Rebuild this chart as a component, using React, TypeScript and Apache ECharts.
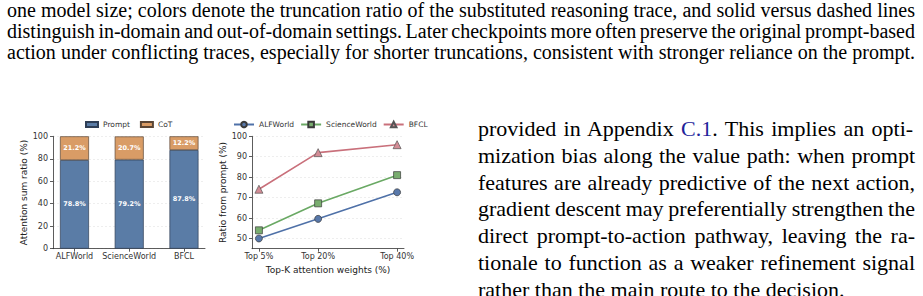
import React, { useEffect, useLayoutEffect, useRef } from "react";
import * as echarts from "echarts";

// ---- data ----
const categories = ["ALFWorld", "ScienceWorld", "BFCL"];
const promptRatio = [78.8, 79.2, 87.8];
const cotRatio = [21.2, 20.7, 12.2];
const barYTicks = [0, 20, 40, 60, 80, 100];

const topK = [5, 20, 40];
const topKLabels = ["Top 5%", "Top 20%", "Top 40%"];
const alfworld = [50.0, 59.6, 72.6];
const scienceworld = [54.0, 67.2, 81.0];
const bfcl = [74.1, 92.0, 95.9];
const lineYTicks = [50, 60, 70, 80, 90, 100];

const captionLines = [
  "one model size; colors denote the truncation ratio of the substituted reasoning trace, and solid versus dashed lines",
  "distinguish in-domain and out-of-domain settings. Later checkpoints more often preserve the original prompt-based",
  "action under conflicting traces, especially for shorter truncations, consistent with stronger reliance on the prompt.",
];
const bodyLines = [
  "mization bias along the value path: when prompt",
  "features are already predictive of the next action,",
  "gradient descent may preferentially strengthen the",
  "direct prompt-to-action pathway, leaving the ra-",
  "tionale to function as a weaker refinement signal",
];
const bodyLast = "rather than the main route to the decision.";

const FONT = "DejaVu Sans";
const SERIF = "Liberation Serif";
const AX = "#333";
const CHART_TOP = 100; // page y of the chart canvas

export default function App() {
  const chartRef = useRef<HTMLDivElement>(null);

  useLayoutEffect(() => {
    const els = document.querySelectorAll<HTMLElement>("[data-justify]");
    els.forEach((el) => {
      const target = parseFloat(el.dataset.justify || "0");
      el.style.wordSpacing = "0px";
      const inner = el.firstElementChild as HTMLElement;
      const w = inner.getBoundingClientRect().width;
      const n = (el.textContent || "").split(" ").length - 1;
      if (n > 0) el.style.wordSpacing = (target - w) / n + "px";
    });
  }, []);

  useEffect(() => {
    if (!chartRef.current) return;
    const chart = echarts.init(chartRef.current, null, { renderer: "svg" });
    const axisLine = { show: true, lineStyle: { color: AX, width: 0.8 } };
    const split = { show: true, lineStyle: { color: "#e2e2e2", width: 0.6, type: [2, 2] as any } };
    const tickLabel = { color: AX, fontSize: 8, fontFamily: FONT };
    const nameStyle = { color: "#222", fontSize: 9, fontFamily: FONT };
    const tick = { show: true, length: 3, lineStyle: { color: AX, width: 0.8 } };
    const gTop = 136.3 - CHART_TOP;
    const lTop = 115.5 - CHART_TOP;

    const barLabel = {
      show: true,
      position: "inside",
      color: "#fff",
      fontWeight: "bold",
      fontSize: 6.5,
      fontFamily: FONT,
      formatter: (p: any) => `${Number(p.value).toFixed(1)}%`,
    };

    const option: any = {
      animation: false,
      legend: [
        {
          data: ["Prompt", "CoT"],
          left: 80,
          top: lTop,
          icon: "rect",
          itemWidth: 12,
          itemHeight: 5,
          itemGap: 10,
          width: 200,
          textStyle: { color: AX, fontSize: 7.5, fontFamily: FONT },
        },
        {
          data: ["ALFWorld", "ScienceWorld", "BFCL"],
          left: 228,
          top: lTop,
          width: 230,
          itemWidth: 20,
          itemHeight: 7,
          itemGap: 6,
          textStyle: { color: AX, fontSize: 7.5, fontFamily: FONT },
        },
      ],
      grid: [
        // frame of bar chart (spines, y ticks, grid lines)
        { left: 53, top: gTop, width: 152, height: 112.4 },
        // bars on a category axis, band = 54.75 px
        { left: 47.1, top: gTop, width: 164.25, height: 112.4 },
        // line chart
        { left: 252, top: gTop, width: 152, height: 112.4 },
      ],
      xAxis: [
        {
          gridIndex: 0,
          type: "value",
          min: 0,
          max: 1,
          splitLine: { show: false },
          axisLine,
          axisTick: { show: false },
          axisLabel: { show: false },
        },
        {
          gridIndex: 1,
          type: "category",
          data: categories,
          axisLine: { show: false },
          axisTick: { ...tick, alignWithLabel: true, interval: 0 },
          axisLabel: { ...tickLabel, margin: 4, interval: 0 },
          splitLine: { show: false },
        },
        {
          gridIndex: 2,
          type: "value",
          min: 3.25,
          max: 41.75,
          splitLine: { show: false },
          axisLine,
          axisTick: { ...tick, customValues: topK },
          axisLabel: {
            ...tickLabel,
            margin: 4,
            customValues: topK,
            formatter: (v: number) => topKLabels[topK.indexOf(v)],
          },
          name: "Top-K attention weights (%)",
          nameLocation: "middle",
          nameGap: 14,
          nameTextStyle: nameStyle,
        },
      ],
      yAxis: [
        {
          gridIndex: 0,
          type: "value",
          min: barYTicks[0],
          max: barYTicks[barYTicks.length - 1],
          interval: 20,
          axisLine,
          splitLine: split,
          axisTick: tick,
          axisLabel: { ...tickLabel, margin: 5 },
          name: "Attention sum ratio (%)",
          nameLocation: "middle",
          nameRotate: 90,
          nameGap: 21,
          nameTextStyle: nameStyle,
        },
        {
          gridIndex: 1,
          type: "value",
          min: barYTicks[0],
          max: barYTicks[barYTicks.length - 1],
          show: false,
          splitLine: { show: false },
        },
        {
          gridIndex: 2,
          type: "value",
          min: 45,
          max: 100,
          axisLine,
          splitLine: split,
          axisTick: { ...tick, customValues: lineYTicks },
          axisLabel: { ...tickLabel, margin: 5, customValues: lineYTicks },
          name: "Ratio from prompt (%)",
          nameLocation: "middle",
          nameRotate: 90,
          nameGap: 22,
          nameTextStyle: nameStyle,
        },
      ],
      series: [
        {
          type: "bar",
          name: "Prompt",
          xAxisIndex: 1,
          yAxisIndex: 1,
          stack: "att",
          barWidth: 29,
          data: promptRatio,
          itemStyle: { color: "#5a7ca6", borderColor: "#2e3e55", borderWidth: 0.7 },
          label: barLabel,
        },
        {
          type: "bar",
          name: "CoT",
          xAxisIndex: 1,
          yAxisIndex: 1,
          stack: "att",
          barWidth: 29,
          data: cotRatio,
          itemStyle: { color: "#d99c66", borderColor: "#5a4636", borderWidth: 0.7 },
          label: barLabel,
        },
        {
          type: "line",
          name: "ALFWorld",
          xAxisIndex: 2,
          yAxisIndex: 2,
          data: topK.map((k, i) => [k, alfworld[i]]),
          symbol: "circle",
          symbolSize: 7,
          lineStyle: { color: "#4f71a8", width: 1.6 },
          itemStyle: { color: "#5878aa", borderColor: "#3a3a3a", borderWidth: 0.7 },
        },
        {
          type: "line",
          name: "ScienceWorld",
          xAxisIndex: 2,
          yAxisIndex: 2,
          data: topK.map((k, i) => [k, scienceworld[i]]),
          symbol: "rect",
          symbolSize: 7,
          lineStyle: { color: "#6aa964", width: 1.6 },
          itemStyle: { color: "#79ad6f", borderColor: "#3a3a3a", borderWidth: 0.7 },
        },
        {
          type: "line",
          name: "BFCL",
          xAxisIndex: 2,
          yAxisIndex: 2,
          data: topK.map((k, i) => [k, bfcl[i]]),
          symbol: "triangle",
          symbolSize: 8,
          lineStyle: { color: "#c9707b", width: 1.6 },
          itemStyle: { color: "#d38c95", borderColor: "#555", borderWidth: 0.7 },
        },
      ],
    };
    chart.setOption(option);
    return () => chart.dispose();
  }, []);

  const capStyle: React.CSSProperties = {
    position: "absolute",
    left: 7,
    width: 908,
    whiteSpace: "nowrap",
    fontFamily: SERIF,
    fontSize: 20,
    lineHeight: "17px",
    color: "#000",
  };
  const bodyStyle: React.CSSProperties = {
    position: "absolute",
    left: 478,
    width: 437,
    whiteSpace: "nowrap",
    fontFamily: SERIF,
    fontSize: 22,
    lineHeight: "26.7px",
    color: "#000",
  };

  return (
    <div
      style={{
        position: "absolute",
        left: 0,
        top: 0,
        width: 923,
        height: 296,
        overflow: "hidden",
        background: "#fff",
      }}
    >
      {captionLines.map((t, i) => (
        <div key={"c" + i} data-justify="908" style={{ ...capStyle, top: 1.5 + i * 21 }}>
          <span>{t}</span>
        </div>
      ))}
      <div data-justify="437" style={{ ...bodyStyle, top: 116.3 }}>
        <span>
          provided in Appendix <span style={{ color: "#22229a" }}>C.1</span>.  This implies an opti-
        </span>
      </div>
      {bodyLines.map((t, i) => (
        <div key={"b" + i} data-justify="437" style={{ ...bodyStyle, top: 116.3 + (i + 1) * 26.7 }}>
          <span>{t}</span>
        </div>
      ))}
      <div style={{ ...bodyStyle, top: 116.3 + 6 * 26.7 }}>
        <span>{bodyLast}</span>
      </div>
      <div
        ref={chartRef}
        style={{ position: "absolute", left: 0, top: CHART_TOP, width: 460, height: 296 - CHART_TOP }}
      />
    </div>
  );
}
